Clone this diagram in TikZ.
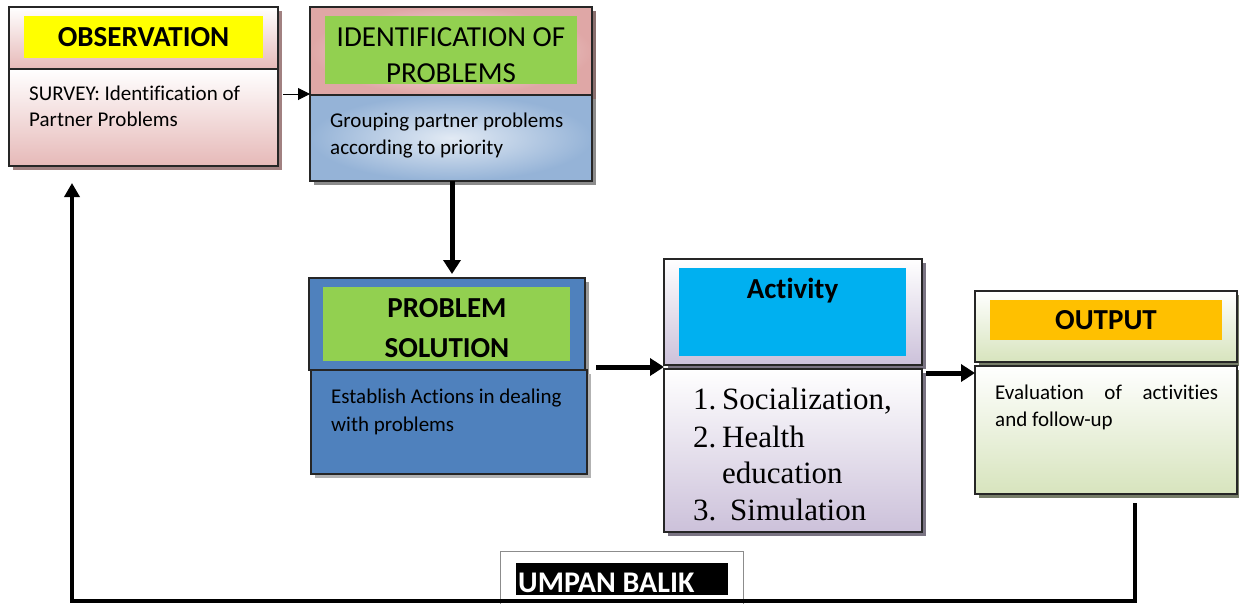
\documentclass[tikz,border=0pt]{standalone}
\usepackage{fontspec}
\setmainfont{Carlito}[Ligatures=CommonOff]
\newfontfamily\listfont{Liberation Serif}
\usetikzlibrary{arrows.meta,shadows,calc}

\definecolor{tagyellow}{HTML}{FFFF00}
\definecolor{taggreen}{HTML}{92D050}
\definecolor{tagcyan}{HTML}{00B0F0}
\definecolor{tagorange}{HTML}{FFC000}
\definecolor{solblue}{HTML}{4F81BD}
\definecolor{rosy}{HTML}{E6B9B8}
\definecolor{rosydeep}{HTML}{DFA7A6}
\definecolor{rosylight}{HTML}{FDF5F5}
\definecolor{skyblue}{HTML}{95B3D7}
\definecolor{skylight}{HTML}{E2EAF4}
\definecolor{lilac}{HTML}{CCC1DA}
\definecolor{sage}{HTML}{D7E4BD}

\tikzset{
  part/.style={draw=black!85, line width=1.1pt, anchor=north west,
               inner sep=0pt, outer sep=0pt},
  tag/.style={anchor=north west, inner sep=0pt, outer sep=0pt},
  headfont/.style={font=\fontsize{29}{36}\selectfont\bfseries},
  plainhead/.style={font=\fontsize{29}{36}\selectfont},
  bodyline/.style={anchor=base west, inner sep=0pt,
                   font=\fontsize{21}{26}\selectfont},
  listline/.style={anchor=base west, inner sep=0pt,
                   font=\listfont\fontsize{31}{37}\selectfont},
  shadowof/.style={drop shadow={shadow xshift=4pt, shadow yshift=-4pt,
                   fill=#1, opacity=1}},
  thinarrow/.style={line width=1pt, -{Triangle[length=12pt,width=12pt]}},
  thickarrow/.style={line width=5pt, -{Triangle[length=14pt,width=17pt]}},
  feedback/.style={line width=4pt, line join=miter,
                   -{Triangle[length=14pt,width=15pt]}}
}

\begin{document}
\begin{tikzpicture}[x=1pt,y=-1pt]
\useasboundingbox (0,0) rectangle (1239,603);

% ---- Observation ----
\node[part, shadowof=rosy!70!black, top color=white, bottom color=rosy,
      minimum width=269, minimum height=62] (obsT) at (9,7) {};
\node[part, shadowof=rosy!70!black, top color=white, bottom color=rosy,
      minimum width=269, minimum height=97] (obsB) at (9,69) {};
\node[tag, fill=tagyellow, minimum width=239, minimum height=42]
      (obsTag) at (24,16) {};
\node[headfont, inner sep=0pt] (obsHead) at (obsTag.center) {OBSERVATION};
\node[bodyline] (obsL1) at (29,100) {SURVEY: Identification of};
\node[bodyline] (obsL2) at (29,126) {Partner Problems};

% ---- Identification of problems ----
\node[part, shadowof=rosy!60!black, shading=radial, inner color=rosylight,
      outer color=rosydeep, minimum width=282, minimum height=88] (idT) at (310,7) {};
\node[part, shadowof=black!45, shading=radial, inner color=skylight,
      outer color=skyblue, minimum width=282, minimum height=86] (idB) at (310,95) {};
\node[tag, fill=taggreen, minimum width=252, minimum height=68]
      (idTag) at (325,16) {};
\node[plainhead, inner sep=0pt, align=center] (idHead) at (451,55.5)
      {IDENTIFICATION OF\\PROBLEMS};
\node[bodyline] (idL1) at (330,127) {Grouping partner problems};
\node[bodyline] (idL2) at (330,154) {according to priority};

% ---- Problem solution ----
\node[part, shadowof=black!40, fill=solblue,
      minimum width=276, minimum height=92] (solT) at (309,278) {};
\node[part, shadowof=black!30, fill=solblue,
      minimum width=276, minimum height=104] (solB) at (311,370) {};
\node[tag, fill=taggreen, minimum width=247, minimum height=74]
      (solTag) at (323,287) {};
\node[headfont, inner sep=0pt, align=center] (solHead) at (447,328)
      {PROBLEM\\[4pt]SOLUTION};
\node[bodyline] (solL1) at (331,403) {Establish Actions in dealing};
\node[bodyline] (solL2) at (331,431) {with problems};

% ---- Activity ----
\node[part, shadowof=lilac!60!black, top color=white, bottom color=lilac,
      minimum width=258, minimum height=106] (actT) at (664,259) {};
\node[part, shadowof=lilac!60!black, top color=white, bottom color=lilac,
      minimum width=258, minimum height=163] (actB) at (664,369) {};
\node[tag, fill=tagcyan, minimum width=227, minimum height=88]
      (actTag) at (679,268) {};
\node[headfont, inner sep=0pt, anchor=base] (actHead) at (792.5,298) {Activity};
\node[listline] (actN1) at (693,409) {1.};
\node[listline] (actL1) at (722,409) {Socialization,};
\node[listline] (actN2) at (693,447) {2.};
\node[listline] (actL2) at (722,447) {Health};
\node[listline] (actL3) at (722,483) {education};
\node[listline] (actN3) at (693,520) {3.};
\node[listline] (actL4) at (730,520) {Simulation};

% ---- Output ----
\node[part, shadowof=sage!55!black, top color=white, bottom color=sage,
      minimum width=262, minimum height=71] (outT) at (975,291) {};
\node[part, shadowof=sage!55!black, top color=white, bottom color=sage,
      minimum width=262, minimum height=128] (outB) at (975,366) {};
\node[tag, fill=tagorange, minimum width=232, minimum height=40]
      (outTag) at (990,300) {};
\node[headfont, inner sep=0pt] (outHead) at (outTag.center) {OUTPUT};
\node[bodyline] (outL1) at (995,399)
      {\hbox to 223pt{Evaluation\hfill of\hfill activities}};
\node[bodyline] (outL2) at (995,426) {and follow-up};

% ---- Feedback label ----
\node[part, draw=black!45, line width=0.8pt, fill=white,
      minimum width=243, minimum height=60] (fbBox) at (500,551) {};
\node[tag, fill=black, minimum width=212, minimum height=32]
      (fbTag) at (516,563) {};
\node[inner sep=0pt, text=white, anchor=base west,
      font=\fontsize{30}{36}\selectfont\bfseries] (fbText)
      at (518,592) {UMPAN BALIK};

% ---- Connectors ----
\coordinate (obsOut) at ($(obsT.south east)+(5,25)$);
\draw[thinarrow] (obsOut) -- (obsOut -| idT.south west);

\coordinate (downCol) at (452,0);
\draw[thickarrow] (idB.south -| downCol) -- ($(downCol |- solT.north)+(0,-4)$);

\coordinate (solOut) at ($(solT.south east)+(11,-3)$);
\draw[thickarrow] (solOut) -- (solOut -| actT.west);

\coordinate (actOut) at ($(actB.north east)+(4,4)$);
\draw[thickarrow] (actOut) -- (actOut -| outB.west);

\coordinate (fbStart) at (1135,503);
\coordinate (fbCorner) at (1135,601);
\coordinate (fbEnd) at (72,183);
\draw[feedback] (fbStart) -- (fbCorner) -- (fbCorner -| fbEnd) -- (fbEnd);
\end{tikzpicture}
\end{document}
